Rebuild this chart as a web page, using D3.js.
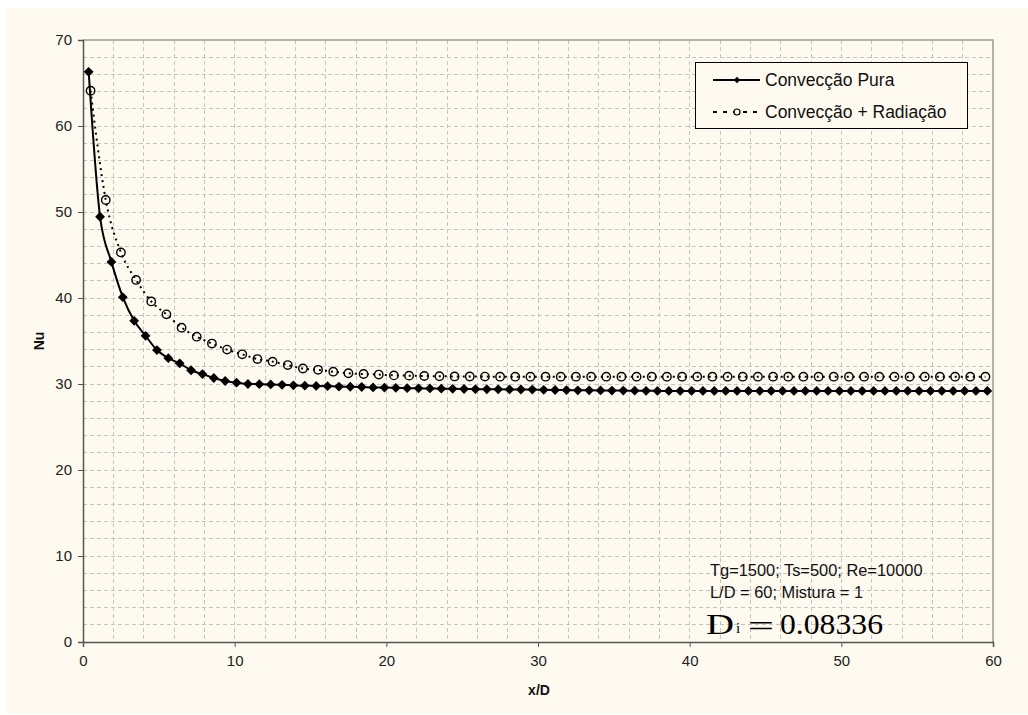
<!DOCTYPE html>
<html>
<head>
<meta charset="utf-8">
<script src="https://cdn.jsdelivr.net/npm/d3@7"></script>
<style>
  html, body { margin: 0; padding: 0; background: #ffffff; }
  svg { display: block; font-family: "Liberation Sans", Arial, sans-serif; }
</style>
</head>
<body>
<svg id="chart" width="1028" height="715"></svg>
<script>
// ---- data ----
const xPura = [0.375,1.125,1.875,2.625,3.375,4.125,4.875,5.625,6.375,7.125,
  7.875,8.625,9.375,10.125,10.875,11.625,12.375,13.125,13.875,14.625,
  15.375,16.125,16.875,17.625,18.375,19.125,19.875,20.625,21.375,22.125,
  22.875,23.625,24.375,25.125,25.875,26.625,27.375,28.125,28.875,29.625,
  30.375,31.125,31.875,32.625,33.375,34.125,34.875,35.625,36.375,37.125,
  37.875,38.625,39.375,40.125,40.875,41.625,42.375,43.125,43.875,44.625,
  45.375,46.125,46.875,47.625,48.375,49.125,49.875,50.625,51.375,52.125,
  52.875,53.625,54.375,55.125,55.875,56.625,57.375,58.125,58.875,59.625];
const nuPura = [66.3,49.45,44.2,40.1,37.35,35.6,33.95,33.0,32.4,31.6,
  31.15,30.7,30.35,30.15,30.0,29.98,29.95,29.9,29.85,29.8,
  29.78,29.75,29.7,29.68,29.65,29.6,29.58,29.55,29.52,29.5,
  29.48,29.46,29.44,29.42,29.4,29.39,29.38,29.37,29.36,29.35,
  29.32,29.3,29.29,29.27,29.26,29.25,29.24,29.23,29.22,29.21,
  29.2,29.2,29.2,29.2,29.2,29.2,29.2,29.2,29.2,29.2,
  29.2,29.2,29.2,29.2,29.2,29.2,29.2,29.2,29.2,29.2,
  29.2,29.2,29.2,29.2,29.2,29.2,29.2,29.2,29.2,29.2];
const xRad = [0.5,1.5,2.5,3.5,4.5,5.5,6.5,7.5,8.5,9.5,
  10.5,11.5,12.5,13.5,14.5,15.5,16.5,17.5,18.5,19.5,
  20.5,21.5,22.5,23.5,24.5,25.5,26.5,27.5,28.5,29.5,
  30.5,31.5,32.5,33.5,34.5,35.5,36.5,37.5,38.5,39.5,
  40.5,41.5,42.5,43.5,44.5,45.5,46.5,47.5,48.5,49.5,
  50.5,51.5,52.5,53.5,54.5,55.5,56.5,57.5,58.5,59.5];
const nuRad = [64.1,51.4,45.3,42.1,39.6,38.1,36.55,35.5,34.7,34.0,
  33.45,32.9,32.6,32.2,31.8,31.65,31.43,31.25,31.16,31.1,
  31.0,30.97,30.93,30.9,30.88,30.87,30.86,30.85,30.85,30.85,
  30.85,30.85,30.85,30.85,30.85,30.85,30.85,30.85,30.85,30.85,
  30.85,30.85,30.85,30.85,30.85,30.85,30.85,30.85,30.85,30.85,
  30.85,30.85,30.85,30.85,30.85,30.85,30.85,30.85,30.85,30.85];
const xTicks = [0,10,20,30,40,50,60];
const yTicks = [0,10,20,30,40,50,60,70];
const xGrid = [2,4,6,8,10,12,14,16,18,20,22,24,26,28,30,32,34,36,38,40,42,44,46,48,50,52,54,56,58];
const yGrid = [2,4,6,8,10,12,14,16,18,20,22,24,26,28,30,32,34,36,38,40,42,44,46,48,50,52,54,56,58,60,62,64,66,68];
const seriesNames = ["Convecção Pura", "Convecção + Radiação"];
const noteLines = ["Tg=1500; Ts=500; Re=10000", "L/D = 60; Mistura = 1"];
const diValue = "0.08336";

// ---- layout ----
const svg = d3.select("#chart");
const bg = "#fefaef";
const sans = "'Liberation Sans', Arial, sans-serif";
const serif = "'Liberation Serif', 'Times New Roman', serif";
const L = 83, R = 993, T = 40, B = 642;

svg.append("rect").attr("x", 7).attr("y", 8).attr("width", 1021).attr("height", 706).attr("fill", bg);

const x = d3.scaleLinear().domain([0, 60]).range([L, R]);
const y = d3.scaleLinear().domain([0, 70]).range([B, T]);

// grid
const g = svg.append("g");
g.selectAll(".vg").data(xGrid).join("line")
  .attr("x1", d => x(d)).attr("x2", d => x(d)).attr("y1", T).attr("y2", B)
  .attr("stroke", "#c4c4c4").attr("stroke-width", 1).attr("stroke-dasharray", "4,3")
  .attr("shape-rendering", "crispEdges");
g.selectAll(".hg").data(yGrid).join("line")
  .attr("y1", d => y(d)).attr("y2", d => y(d)).attr("x1", L).attr("x2", R)
  .attr("stroke", "#c4c4c4").attr("stroke-width", 1).attr("stroke-dasharray", "4,3")
  .attr("shape-rendering", "crispEdges");

// frame top/right
svg.append("path").attr("d", `M${L},${T}H${R}V${B}`).attr("fill", "none")
  .attr("stroke", "#9a9a9a").attr("stroke-width", 1.5);

// axes
const xAxis = d3.axisBottom(x).tickValues(xTicks).tickSizeOuter(0).tickSize(5).tickPadding(8);
const yAxis = d3.axisLeft(y).tickValues(yTicks).tickSizeOuter(0).tickSize(5).tickPadding(6);
const gx = svg.append("g").attr("transform", `translate(0,${B})`).call(xAxis);
const gy = svg.append("g").attr("transform", `translate(${L},0)`).call(yAxis);
[gx, gy].forEach(a => {
  a.attr("font-family", null);
  a.select(".domain").attr("stroke", "#555").attr("stroke-width", 1.5);
  a.selectAll(".tick line").attr("stroke", "#555");
  a.selectAll(".tick text").attr("fill", "#222").attr("font-size", 15)
    .style("font-family", sans);
});

// axis titles
svg.append("text").attr("x", 539).attr("y", 695).attr("text-anchor", "middle")
  .attr("font-size", 14).attr("font-weight", "bold").attr("fill", "#111").text("x/D");
svg.append("text").attr("transform", "translate(44,341) rotate(-90)").attr("text-anchor", "middle")
  .attr("font-size", 14).attr("font-weight", "bold").attr("fill", "#111").text("Nu");

// series lines
const pura = xPura.map((d, i) => [d, nuPura[i]]);
const rad = xRad.map((d, i) => [d, nuRad[i]]);
const line = d3.line().x(d => x(d[0])).y(d => y(d[1])).curve(d3.curveMonotoneX);

svg.append("path").datum(rad).attr("d", line).attr("fill", "none")
  .attr("stroke", "#000").attr("stroke-width", 2).attr("stroke-dasharray", "2,4");
svg.append("path").datum(pura).attr("d", line).attr("fill", "none")
  .attr("stroke", "#000").attr("stroke-width", 2);

// markers
const diamond = d3.symbol().type(d3.symbolSquare).size(48);
svg.selectAll(".dm").data(pura).join("path")
  .attr("d", diamond)
  .attr("transform", d => `translate(${x(d[0])},${y(d[1])}) rotate(45)`)
  .attr("fill", "#000");
svg.selectAll(".cm").data(rad).join("circle")
  .attr("cx", d => x(d[0])).attr("cy", d => y(d[1])).attr("r", 4.2)
  .attr("fill", "none").attr("stroke", "#000").attr("stroke-width", 1.4);

// legend
const lg = svg.append("g");
lg.append("rect").attr("x", 695.5).attr("y", 62.5).attr("width", 272).attr("height", 66)
  .attr("fill", bg).attr("stroke", "#000").attr("stroke-width", 1);
lg.append("line").attr("x1", 713).attr("x2", 760).attr("y1", 80).attr("y2", 80)
  .attr("stroke", "#000").attr("stroke-width", 2);
lg.append("path").attr("d", d3.symbol().type(d3.symbolSquare).size(22))
  .attr("transform", "translate(737,80) rotate(45)").attr("fill", "#000");
lg.append("line").attr("x1", 713).attr("x2", 760).attr("y1", 112).attr("y2", 112)
  .attr("stroke", "#000").attr("stroke-width", 2).attr("stroke-dasharray", "4,6");
lg.append("circle").attr("cx", 737).attr("cy", 112).attr("r", 3)
  .attr("fill", bg).attr("stroke", "#000").attr("stroke-width", 1.2);
lg.selectAll(".lt").data(seriesNames).join("text")
  .attr("x", 765).attr("y", (d, i) => 86 + i * 32)
  .attr("font-size", 17.5).attr("fill", "#111").text(d => d);

// annotations
svg.selectAll(".note").data(noteLines).join("text")
  .attr("x", 710).attr("y", (d, i) => 576 + i * 21.5)
  .attr("font-size", 16.4).attr("fill", "#111").text(d => d);
const eq = svg.append("g").attr("fill", "#000");
eq.append("text").attr("x", 706).attr("y", 634).attr("font-size", 30).style("font-family", serif)
  .attr("textLength", 28).attr("lengthAdjust", "spacingAndGlyphs").text("D");
eq.append("text").attr("x", 736).attr("y", 633).attr("font-size", 15).style("font-family", serif).text("i");
eq.append("text").attr("x", 748).attr("y", 636).attr("font-size", 30).style("font-family", serif)
  .attr("textLength", 26).attr("lengthAdjust", "spacingAndGlyphs").text("=");
eq.append("text").attr("x", 780).attr("y", 634).attr("font-size", 30).style("font-family", serif)
  .attr("textLength", 103).attr("lengthAdjust", "spacingAndGlyphs").text(diValue);
</script>
</body>
</html>
